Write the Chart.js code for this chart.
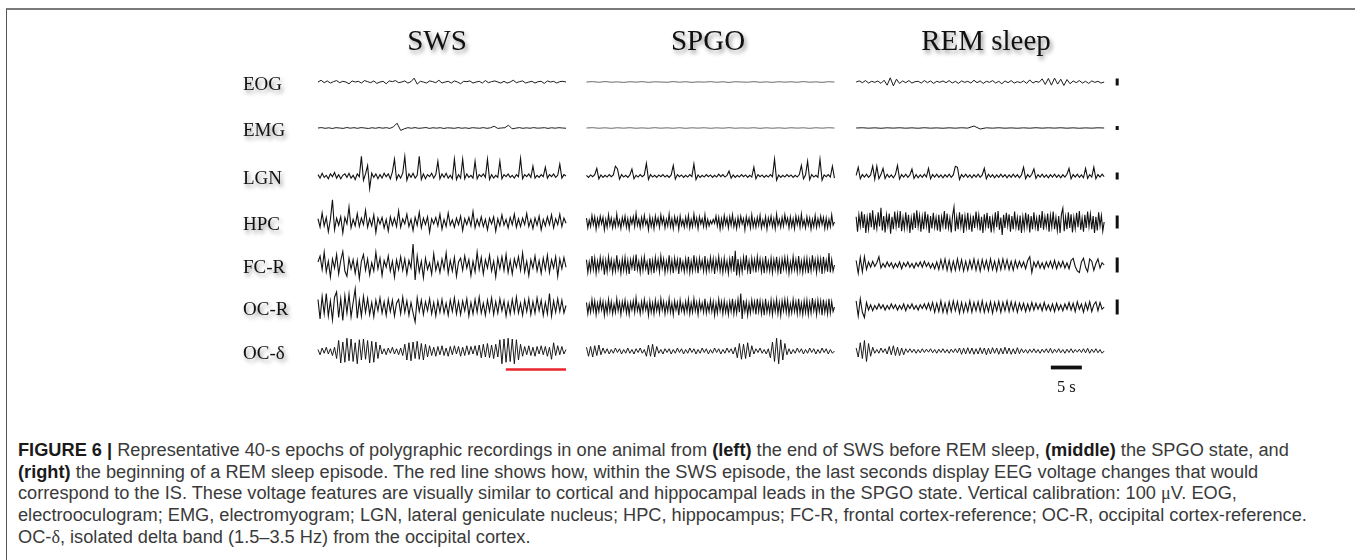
<!DOCTYPE html>
<html><head><meta charset="utf-8">
<script src="https://cdn.jsdelivr.net/npm/chart.js@4.4.1/dist/chart.umd.min.js"></script>
<style>
html,body{margin:0;padding:0;background:#fff;width:1355px;height:560px;overflow:hidden;}
#frame{position:absolute;left:6px;top:8px;width:1400px;height:600px;border-top:2px solid #7a7a7a;border-left:1px solid #555;}
#plot{position:absolute;left:0;top:0;}
#caption{position:absolute;left:18px;top:441px;font-family:"Liberation Sans",Arial,sans-serif;color:#3a3a3a;}
#caption div{white-space:nowrap;width:max-content;}
#caption b{color:#1a1a1a;}
.gk{font-family:"Liberation Serif","DejaVu Serif",serif;}
</style></head><body>
<div id="frame"></div>
<canvas id="plot" width="1355" height="420"></canvas>
<div id="caption">
<div id="cap1"><b>FIGURE 6 |</b> Representative 40-s epochs of polygraphic recordings in one animal from <b>(left)</b> the end of SWS before REM sleep, <b>(middle)</b> the SPGO state, and</div>
<div><b>(right)</b> the beginning of a REM sleep episode. The red line shows how, within the SWS episode, the last seconds display EEG voltage changes that would</div>
<div>correspond to the IS. These voltage features are visually similar to cortical and hippocampal leads in the SPGO state. Vertical calibration: 100 <span class="gk">μ</span>V. EOG,</div>
<div>electrooculogram; EMG, electromyogram; LGN, lateral geniculate nucleus; HPC, hippocampus; FC-R, frontal cortex-reference; OC-R, occipital cortex-reference.</div>
<div>OC-<span class="gk">δ</span>, isolated delta band (1.5–3.5 Hz) from the occipital cortex.</div>
</div>
<script>
// ---------------- DATA ----------------
const states = ['SWS', 'SPGO', 'REM sleep'];
const channels = ['EOG', 'EMG', 'LGN', 'HPC', 'FC-R', 'OC-R', 'OC-δ'];
const epochSeconds = 40;          // each panel is a 40-s epoch
const calibrationMicroV = 100;    // vertical calibration bars
const scaleBarSeconds = 5;
const scaleBarLabel = '5 s';
const redMarkSeconds = [30.3, 40]; // last seconds of SWS resembling IS

// traces in µV (upward positive), evenly sampled over the 40-s epoch
const swsEOG = [0,25,-10,15,-15,5,20,-10,10,0,-25,15,0,10,-15,20,5,-10,15,-20,0,10,-25,15,5,20,-10,0,15,-15,5,55,-30,10,0,-15,15,5,-10,25,-15,0,10,-15,15,0,-25,10,5,15,-15,0,10,-15,20,-10,5,15,0,-15,10,-15,0,25,-10,5,15,-15,0,10,-15,5,10,-20,15,0,10,-15,5,10,0];
const swsEMG = [0,10,-8,5,-12,8,0,-10,12,-5,8,-8,10,0,-12,6,-6,10,-4,8,-10,30,120,-60,-20,8,-6,10,-8,0,12,-10,6,-4,8,-12,5,0,-8,10,-6,4,-10,8,0,-6,10,-8,5,45,-10,0,8,70,-20,-5,10,-8,4,-6,10,-4,0,8,-10,6,-5,8,0,-6];
const swsLGN = [20,-30,40,-20,10,-40,30,-10,50,-30, 20,-40,10,30,-20,40,-30,10,-50,30, -10,280,-60,30,150,-180,40,-20,30,-40, 20,-30,40,-10,30,-40,60,240,-50,20, -30,40,280,-60,30,-20,40,-30,10,280, -50,30,-40,20,-10,40,-30,20,210,-40, 30,-20,40,-30,10,-40,240,-50,20,-30, 240,-40,30,-20,10,-30,210,-40,20,-10, 30,-20,240,-50,20,-30,10,-20,210,-40, 20,-10,30,-20,10,-30,20,-10,250,-40, 20,-10,30,-20,140,-30,10,-20,20,-10, 125,-30,20,-10,30,-20,10,170,-30,20, 0];
const swsHPC = [25,-40,70,-30,35,-75,20,170,-60,30, -25,40,-85,35,-15,115,-45,20,-30,65, -35,30,-20,90,-40,25,-30,55,-80,30, -15,35,-45,20,-70,40,-25,30,-35,85, -40,25,-15,60,-35,20,-65,35,-25,75, -45,30,-20,40,-80,25,-15,35,-30,60, -55,20,-35,70,-25,15,-40,30,-20,45, -65,25,-20,35,-30,80,-45,20,-30,40, -35,20,-60,30,-15,40,-70,25,-30,55, -25,20,-45,35,-20,60,-40,25,-35,30, -20,65,-35,20,-50,30,-25,45,-60,20, -30,40,-20,55,-45,25,-20,60,-35,30, -10];
const swsFCR = [20,60,-30,85,-45,25,-80,40,-20,70, -60,30,90,-40,-75,45,-25,35,-55,30, -90,25,70,-35,40,-65,15,-40,85,-25, 45,-70,30,-15,60,-40,25,-80,35,-30, 55,-35,40,-60,30,-20,140,-100,60,-45, 25,-85,45,-30,15,-60,75,-35,20,-50, 40,-25,80,-55,30,-40,50,-75,20,45, -35,60,-20,35,-70,25,-45,85,-30,50, -60,35,-20,65,-40,25,-80,45,-25,55, -35,70,-50,30,-60,40,-15,55,-35,80, -45,25,-70,35,-20,60,-40,30,-55,45, -30,65,-50,35,-20,55,-75,40,-25,50, -15];
const swsOCR = [50,-80,70,-45,90,-60,40,-85,65,100, -70,55,-90,75,-40,85,-65,30,120,-75, 45,-60,70,-35,55,-50,30,-65,45,-25, 60,-40,35,-55,50,-30,45,-60,25,50, -45,65,-35,40,-55,30,-40,-100,60,-30, 45,-50,35,-25,55,-45,30,-60,40,-35, 50,-40,25,-55,45,-30,60,-45,35,-50, 40,-25,55,-60,30,-45,50,-35,65,-40, 25,-55,45,-30,60,-50,35,-40,55,-25, 40,-60,30,-45,50,-35,65,-40,25,-55, 45,-30,55,-50,35,-40,60,-25,45,-55, 30,-45,90,-60,40,-35,55,-30,45,-40, 10];
const swsOCd = [10,-25,20,-15,25,-20,15,-30,25,-50, 70,-80,60,-75,85,-65,80,-70,55,-85, 75,-60,80,-55,70,-80,65,-75,60,-50, 40,-20,15,-25,20,-15,25,-20,15,-25, 20,-30,45,-60,55,-65,60,-50,65,-55, 50,-60,45,-40,35,-30,25,-35,30,-25, 35,-30,20,-35,30,-25,35,-20,30,-35, 25,-30,35,-25,30,-20,35,-30,40,-45, 45,-40,50,-45,40,-50,45,-40,75,-85, 80,-75,85,-70,80,-85,75,-60,45,-35, 30,-25,35,-30,25,-35,30,-20,35,-25, 30,-35,25,-55,55,-30,35,-25,30,-20, 10];

const spgoEOG = [0,5,-4,6,-3,2,-6,4,-2,5,-5,3,0,-4,6,-3,4,-5,2,-2,5,-4,3,-6,4,0,-3,5,-4,2,-5,4,-2,3,-4,6,-3,2,-5,4,0];
const spgoEMG = [0,8,-6,5,-8,6,-4,7,-6,3,-7,8,-5,4,-6,7,-8,5,-3,6,-7,4,-5,8,-6,3,-4,7,-8,5,-6,4,-7,6,-3,5,-8,6,-4,7,0];
const spgoLGN = [10,-20,15,-10,20,110,-40,15,-20,10, -15,20,-10,15,140,100,-45,20,-15,10, -20,15,100,-40,10,-15,20,-10,15,180, -50,20,-15,10,-20,15,-10,20,-15,10, -20,15,150,-45,20,-10,15,-20,10,-15, 20,-10,170,-50,15,-20,10,-15,20,-10, 15,-20,10,-15,25,-10,20,-15,10,70, -30,15,-20,10,-15,20,-10,15,-20,10, -15,125,-40,20,-10,15,-20,10,-15,20, -10,240,-60,15,-20,10,-15,20,-10,15, -20,10,-15,20,150,-40,15,210,-55,20, -15,10,-20,240,-60,15,-10,20,-15,140, -30];
const spgoHPC = [30,-45,15,-35,50,-20,40,-55,25,-30, 45,-15,35,-60,20,-40,55,-25,30,-45, 20,-35,60,-30,15,-50,35,-20,45,-40, 25,-55,30,-15,40,-35,65,-25,20,-45, 35,-30,50,-20,15,-60,40,-35,25,-50, 45,-20,30,-40,55,-15,35,-45,20,-30, 60,-35,25,-50,40,-20,30,-55,45,-25, 15,-40,35,-30,50,-45,20,-35,60,-25, 30,-50,40,-15,25,-35,55,-40,20,-30, 10,-15,20,-10,45,-30,35,-55,25,-40, 50,-20,30,-45,40,-25,55,-35,20,-50, 35,-30,45,-15,25,-60,40,-20,30,-45, 55,-35,20,-40,35,-25,50,-45,15,-30, 40,-55,30,-20,45,-35,25,-50,60,-25, 20,-40,35,-30,55,-15,30,-45,40,-35, 25,-50,45,-20,35,-40,60,-30,15,-45, 40,-25,30,-55,20,-35,50,-40,25,-30, 45,-20,35,-50,30,-45,20,-35,55,-25, 0];
const spgoFCR = [35,-50,20,-40,60,-30,45,-55,25,-35, 50,-20,40,-65,30,-45,55,-25,35,-50, 25,-40,65,-30,20,-55,40,-35,50,-45, 30,-60,35,-20,45,-40,70,-30,25,-50, 40,-35,55,-25,20,-65,45,-40,30,-55, 50,-25,35,-45,60,-20,40,-50,25,-35, 65,-40,30,-55,45,-25,35,-60,50,-30, 20,-45,40,-35,55,-50,25,-40,65,-30, 35,-55,45,-20,30,-40,60,-45,25,-35, 50,-30,40,-60,35,-25,55,-40,30,-50, 45,-35,25,-55,40,-30,60,-45,95,-70, 40,-55,30,-45,50,-35,65,-40,25,-60, 45,-30,35,-50,55,-25,40,-45,30,-55, 60,-35,25,-40,45,-50,35,-30,55,-45, 30,-60,40,-25,50,-35,45,-55,20,-40, 55,-30,35,-45,60,-40,25,-50,40,-35, 45,-55,30,-40,65,-25,35,-50,45,-30, 40,-60,55,-35,30,-45,80,-50,35,-40, 0];
const spgoOCR = [30,-45,20,-35,50,-25,40,-50,25,-30, 45,-20,35,-55,25,-40,50,-30,35,-45, 20,-35,55,-25,30,-50,35,-20,45,-40, 25,-50,30,-20,40,-35,60,-25,20,-45, 35,-30,50,-20,25,-55,40,-35,25,-45, 45,-25,30,-40,55,-20,35,-45,25,-30, 55,-35,25,-50,40,-20,30,-55,45,-25, 20,-40,35,-30,50,-45,25,-35,55,-25, 30,-50,40,-20,25,-35,55,-40,20,-30, 45,-30,35,-55,25,-40,50,-25,35,-45, 40,-35,25,-50,35,-30,55,-45,30,-40, 50,-35,90,-80,45,-30,35,-55,25,-40, 45,-25,35,-50,55,-30,40,-45,30,-55, 55,-35,25,-40,45,-50,35,-30,50,-45, 30,-55,40,-25,50,-35,45,-50,20,-40, 50,-30,35,-45,55,-40,25,-50,40,-35, 45,-50,30,-40,60,-25,35,-50,45,-30, 40,-55,50,-35,30,-45,55,-40,35,-30, 0];
const spgoOCd = [25,-35,30,-40,35,-30,40,-25,20,-15, 15,-20,10,-15,20,-10,15,-20,10,-15, 20,-15,10,-20,15,-10,20,-15,10,-35, 40,-35,45,-40,30,-15,10,-20,15,-10, 15,-20,10,-15,20,-10,15,-20,10,-15, 20,-10,15,-20,10,-15,20,-10,15,-20, 10,-15,20,-10,15,-20,10,-15,20,-10, 15,-20,25,-45,50,-55,45,-50,55,-40, 35,-20,15,-10,20,-15,10,-20,15,-45, 60,-70,85,-85,75,-60,50,-25,15,-20, 10,-15,20,-10,15,-20,10,-15,20,-10, 15,-20,10,-15,20,-10,15,-20,10,-15, 0];

const remEOG = [0,15,-10,20,-15,10,-5,15,-20,25, -45,60,-55,40,-20,15,-10,20,-15,5, 10,-15,20,-10,15,-20,10,-5,15,-10, 20,-15,10,-20,15,-5,10,-15,25,-10, 15,-20,10,-5,20,-15,10,-25,15,-10, 20,-15,5,-10,15,-20,30,-15,10,-5, 45,-35,50,-45,55,-30,40,-50,35,-25, 15,-10,20,-15,10,-20,15,-5,10,-15, 0];
const remEMG = [0,6,-5,4,-7,5,-3,6,-5,4,-6,7,-4,3,-6,5,-4,6,-3,50,-25,5,-4,6,-5,3,-6,4,-5,7,-4,5,-3,6,-5,4,-6,3,-4,5,0];
const remLGN = [10,125,-40,20,-15,25,-20,15,140,-45, 140,-40,20,110,-35,25,-20,15,-25,20, 150,-45,20,-15,25,-20,15,100,-35,20, -25,15,-20,25,-15,110,-40,20,-15,25, -20,15,-25,20,-15,25,-20,15,140,125, -50,20,-15,25,-20,15,-25,20,-15,25, -20,15,110,-40,25,-15,20,-25,15,-20, 25,-15,20,-25,15,-20,25,-15,20,-25, 15,125,-40,20,-15,25,100,-35,20,-15, 25,-20,15,-25,20,-15,25,-20,15,-25, 20,-15,25,110,-40,20,-15,25,-20,15, -25,110,-35,20,-15,125,-40,20,-15,25, -10];
const remHPC = [40,-75,55,-30,80,-45,60,-85,35,-55, 70,-40,90,-60,30,-50,75,-35,110,-65, 45,-80,55,-30,65,-90,40,-55,80,-35, 60,-45,85,-70,35,-50,75,-40,55,-85, 30,-60,70,-45,90,-35,50,-75,40,-55, 80,-30,60,-85,45,-50,70,-40,35,-65, 55,-75,40,-30,85,-55,65,-45,30,-80, 50,115,-70,40,-55,75,-35,60,-85,45, -40,70,-60,35,-75,50,-45,80,-30,55, -65,40,-85,60,-35,70,-50,45,-80,30, -55,75,-40,85,-60,35,-100,55,-45,70, -30,60,-75,45,-55,80,-40,35,-65,50, -85,40,-50,70,-35,60,-80,45,-55,75, -40,30,-70,55,-45,85,-60,40,-35,65, -75,50,-40,80,-55,35,-65,45,-85,60, 105,-70,40,-55,75,-45,60,-80,35,-50, 70,-40,85,-60,30,-75,55,-45,80,-35, 60,-55,45,-85,40,-65,75,-30,50,-70, 0];
const remFCR = [30,-55,50,-45,55,-30,20,-15,25,-10, 15,55,-20,10,-15,20,-10,15,-20,10, -15,20,-25,15,-10,20,-15,10,-20,15, -10,20,-15,25,-10,15,-20,10,-25,20, -30,35,-25,40,-35,30,-40,25,-35,40, -30,35,-40,25,-35,30,-25,40,-35,30, -40,35,-25,30,-35,40,-30,25,-40,35, -30,40,-25,35,-30,25,-35,30,-20,25, -15,20,-25,30,55,-50,20,-15,25,-20, 15,-25,20,-15,25,-20,30,-25,20,-15, 25,-20,15,-25,30,45,-10,-40,-50,20, 45,-15,-45,40,25,-35,10,40,-20,15, 0];
const remOCR = [40,-60,55,-35,-70,30,-20,15,-25,10, -15,20,-10,15,-20,10,-15,20,-10,15, -20,10,-15,20,-25,15,-10,20,-15,10, -20,15,-10,20,-15,25,-20,30,-35,25, -30,40,-35,25,-40,35,-30,40,-25,35, -40,30,-35,25,-30,40,-35,30,-25,35, -30,40,-35,25,-30,35,-40,30,-25,35, -35,30,-25,40,-30,35,-25,30,-35,25, -20,25,-30,20,-25,30,-20,25,-15,20, -25,30,-20,15,-25,20,-30,25,-20,15, -25,20,-15,30,-20,25,-30,35,-15,20, -35,25,-20,35,-30,15,35,-25,30,-15, 0];
const remOCd = [20,-40,55,-50,70,-70,50,-35,25,-15, 10,-15,20,-10,15,-20,30,-25,35,-30, 25,-30,20,-25,15,-10,15,-10,12,-15, 10,-12,15,-10,12,-8,15,-12,10,-15, 12,-10,15,-12,10,-15,12,-10,15,-12, 20,-22,18,-20,22,-18,20,-22,15,-20, 22,-18,20,-25,18,-20,22,-15,20,-22, 18,-20,25,-18,20,-22,15,-20,22,-18, 15,-12,10,-15,12,-10,15,-12,10,-15, 12,-10,15,-12,18,-15,12,-10,15,-12, 10,-15,12,-10,15,-12,10,-8,12,-10, 15,-12,18,-15,12,-10,15,-12,10,-15, 0];

// ---------------- LAYOUT ----------------
const PX_PER_S = 6.2;
const SWS_LEFT_PX = 318;
const CANVAS_W = 1355, CANVAS_H = 420;
const AREA = {left: 300, right: 1160, top: 20, bottom: 400};
const PANEL_START_S = [0, 43.3, 86.8];
const ROW_PX = [82, 128, 176, 222, 265, 307, 351];
const GAIN_PX_PER_100UV = [7, 4, 7, 13, 15, 15, 15];
const CAL_COUNT = 6;
const CAL_X_S = 128.9;
const SCALEBAR_START_S = 118.2;
const SCALEBAR_Y = 367.5;
const REDLINE_Y = 369.5;
const TITLE_X = [437, 708, 986], TITLE_Y = 50;
const LABEL_X = 243, LABEL_DY = 7.5;

const traces = [
  [swsEOG, swsEMG, swsLGN, swsHPC, swsFCR, swsOCR, swsOCd],
  [spgoEOG, spgoEMG, spgoLGN, spgoHPC, spgoFCR, spgoOCR, spgoOCd],
  [remEOG, remEMG, remLGN, remHPC, remFCR, remOCR, remOCd]
];

const datasets = [];
traces.forEach((set, p) => set.forEach((vals, c) => {
  const n = vals.length;
  const flat = Math.max(...vals.map(Math.abs)) * GAIN_PX_PER_100UV[c] / calibrationMicroV < 1.2;
  datasets.push({
    data: vals.map((v, i) => ({x: PANEL_START_S[p] + i * epochSeconds / (n - 1),
                               y: ROW_PX[c] - v * GAIN_PX_PER_100UV[c] / calibrationMicroV})),
    borderColor: flat ? '#444' : '#111',
    borderWidth: flat ? 0.8 : (c >= 2 && c <= 5 ? 1.1 : 0.95),
    pointRadius: 0, tension: 0, fill: false, clip: false
  });
}));
// calibration bars (100 µV at each channel's gain)
for (let c = 0; c < CAL_COUNT; c++) {
  const h = calibrationMicroV * GAIN_PX_PER_100UV[c] / calibrationMicroV;
  datasets.push({data: [{x: CAL_X_S, y: ROW_PX[c] - h / 2}, {x: CAL_X_S, y: ROW_PX[c] + h / 2}],
    borderColor: '#111', borderWidth: 3, borderCapStyle: 'butt', pointRadius: 0, clip: false});
}
// red mark
datasets.push({data: redMarkSeconds.map(s => ({x: PANEL_START_S[0] + s, y: REDLINE_Y})),
  borderColor: '#e8252b', borderWidth: 2.6, borderCapStyle: 'butt', pointRadius: 0, clip: false});
// time scale bar
datasets.push({data: [{x: SCALEBAR_START_S, y: SCALEBAR_Y}, {x: SCALEBAR_START_S + scaleBarSeconds, y: SCALEBAR_Y}],
  borderColor: '#111', borderWidth: 3.8, borderCapStyle: 'butt', pointRadius: 0, clip: false});

const textPlugin = {
  id: 'figText',
  afterDraw(chart) {
    const ctx = chart.ctx, xs = chart.scales.x, ys = chart.scales.y;
    ctx.save();
    ctx.shadowColor = 'rgba(0,0,0,0.45)';
    ctx.shadowBlur = 4; ctx.shadowOffsetX = 2; ctx.shadowOffsetY = 3;
    ctx.fillStyle = '#111';
    ctx.textBaseline = 'alphabetic';
    ctx.font = '29px "Liberation Serif", "Times New Roman", serif';
    ctx.textAlign = 'center';
    states.forEach((s, i) => ctx.fillText(s, TITLE_X[i], TITLE_Y));
    ctx.font = '19px "Liberation Serif", "Times New Roman", serif';
    ctx.textAlign = 'left';
    channels.forEach((c, i) => ctx.fillText(c, LABEL_X, ys.getPixelForValue(ROW_PX[i]) + LABEL_DY));
    ctx.restore();
    ctx.save();
    ctx.fillStyle = '#111';
    ctx.font = '16.5px "Liberation Serif", "Times New Roman", serif';
    ctx.textAlign = 'center';
    ctx.fillText(scaleBarLabel, xs.getPixelForValue(SCALEBAR_START_S + scaleBarSeconds / 2), 391.5);
    ctx.restore();
  }
};

new Chart(document.getElementById('plot'), {
  type: 'line',
  data: {datasets},
  options: {
    responsive: false, animation: false, events: [],
    layout: {padding: {left: AREA.left, right: CANVAS_W - AREA.right, top: AREA.top, bottom: CANVAS_H - AREA.bottom}},
    plugins: {legend: {display: false}, tooltip: {enabled: false}},
    scales: {
      x: {type: 'linear', display: false,
          min: (AREA.left - SWS_LEFT_PX) / PX_PER_S, max: (AREA.right - SWS_LEFT_PX) / PX_PER_S},
      y: {type: 'linear', display: false, reverse: true, min: AREA.top, max: AREA.bottom}
    }
  },
  plugins: [textPlugin]
});

// caption sizing: fit first line to its width in the reference
const CAPTION_LINE1_WIDTH = 1272, CAPTION_BASELINE1 = 457, CAPTION_LH = 21.7;
const cap = document.getElementById('caption');
let fs = 15;
cap.style.fontSize = fs + 'px';
const w1 = document.getElementById('cap1').getBoundingClientRect().width;
fs = fs * CAPTION_LINE1_WIDTH / w1;
cap.style.fontSize = fs + 'px';
cap.style.lineHeight = CAPTION_LH + 'px';
cap.style.top = (CAPTION_BASELINE1 - ((CAPTION_LH - 1.117 * fs) / 2 + 0.905 * fs)) + 'px';
</script>
</body></html>
